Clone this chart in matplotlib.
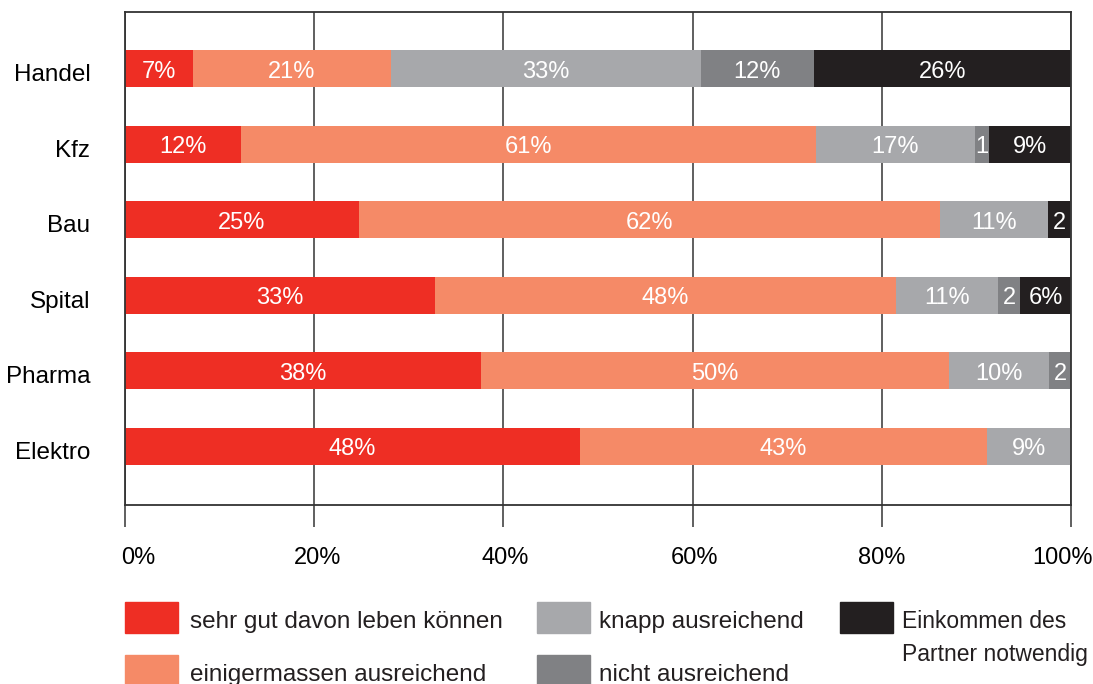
import matplotlib.pyplot as plt
from matplotlib.patches import Rectangle
from matplotlib.transforms import ScaledTranslation

# Kategorien (von oben nach unten)
categories = ["Handel", "Kfz", "Bau", "Spital", "Pharma", "Elektro"]

# Anteile in % (Balkenbreiten)
sehr_gut = [7.2, 12.3, 24.7, 32.8, 37.6, 48.1]
einigermassen = [20.9, 60.7, 61.5, 48.7, 49.5, 43.0]
knapp = [32.8, 16.8, 11.4, 10.8, 10.6, 8.9]
nicht = [11.9, 1.5, 0.0, 2.3, 2.3, 0.0]
partner = [27.2, 8.8, 2.3, 5.4, 0.0, 0.0]

# Beschriftungen in den Balken
sehr_gut_lbl = ["7%", "12%", "25%", "33%", "38%", "48%"]
einigermassen_lbl = ["21%", "61%", "62%", "48%", "50%", "43%"]
knapp_lbl = ["33%", "17%", "11%", "11%", "10%", "9%"]
nicht_lbl = ["12%", "1", "", "2", "2", ""]
partner_lbl = ["26%", "9%", "2", "6%", "", ""]

x_ticks = [0, 20, 40, 60, 80, 100]
x_tick_lbl = ["0%", "20%", "40%", "60%", "80%", "100%"]

legend_labels = ["sehr gut davon leben können", "einigermassen ausreichend",
                 "knapp ausreichend", "nicht ausreichend",
                 "Einkommen des\nPartner notwendig"]

colors = ["#EE2E24", "#F58A67", "#A7A8AB", "#808184", "#231F20"]

plt.rcParams['font.family'] = ['Liberation Sans', 'DejaVu Sans']

fig = plt.figure(figsize=(10.93, 6.84), dpi=100)
ax = fig.add_axes([0.1144, 0.2617, 0.8655, 0.7208])

# Textversatz nach unten (Pixel -> Zoll)
down3 = ScaledTranslation(0, -3 / 100, fig.dpi_scale_trans)

series = [sehr_gut, einigermassen, knapp, nicht, partner]
labels = [sehr_gut_lbl, einigermassen_lbl, knapp_lbl, nicht_lbl, partner_lbl]
y = list(range(len(categories)))
left = [0.0] * len(categories)
for vals, lbls, col in zip(series, labels, colors):
    ax.barh(y, vals, left=left, height=0.49, color=col, zorder=2)
    for i, t in enumerate(lbls):
        if t:
            ax.text(left[i] + vals[i] / 2, y[i], t, ha="center", va="center",
                    color="white", fontsize=17, zorder=3,
                    transform=ax.transData + down3)
    left = [l + v for l, v in zip(left, vals)]

ax.set_xlim(0, 100)
ax.set_ylim(5.78, -0.755)
ax.set_xticks(x_ticks)
ax.set_xticklabels(x_tick_lbl, fontsize=17)
ax.set_yticks(y)
ax.set_yticklabels(categories, fontsize=17.5)
ax.tick_params(axis="y", length=0, pad=25)
ax.tick_params(axis="x", length=16, width=1.2, color="#444444", pad=14)
ax.grid(axis="x", color="#444444", linewidth=1.2, zorder=0)
ax.set_axisbelow(True)
for s in ax.spines.values():
    s.set_color("#333333")
    s.set_linewidth(1.3)

# Beschriftungen leicht verschieben wie im Original
for lab in ax.get_yticklabels():
    lab.set_transform(lab.get_transform() + ScaledTranslation(0, -4 / 100, fig.dpi_scale_trans))
x_shift = [13, 3, 2, 2, 0, -9]
for lab, dx in zip(ax.get_xticklabels(), x_shift):
    lab.set_transform(lab.get_transform() + ScaledTranslation(dx / 100, 0, fig.dpi_scale_trans))

# Legende von Hand (Kacheln + Text)
W, H = 1093, 684
pos = [(125, 602), (125, 655), (537, 602), (537, 655), (840, 602)]
for (px, py), col, lab in zip(pos, colors, legend_labels):
    fig.patches.append(Rectangle((px / W, 1 - (py + 31) / H), 53 / W, 31 / H,
                                 transform=fig.transFigure, color=col))
    tx = px + 65 if px < 300 else px + 62
    if "\n" in lab:
        l1, l2 = lab.split("\n")
        fig.text(tx / W, 1 - 622 / H, l1, fontsize=16.5, va="center", color="#231F20")
        fig.text(tx / W, 1 - 655 / H, l2, fontsize=16.5, va="center", color="#231F20")
    else:
        fig.text(tx / W, 1 - (py + 20) / H, lab, fontsize=17.5, va="center",
                 color="#231F20")

fig.savefig("out.png", dpi=100)
plt.close(fig)
